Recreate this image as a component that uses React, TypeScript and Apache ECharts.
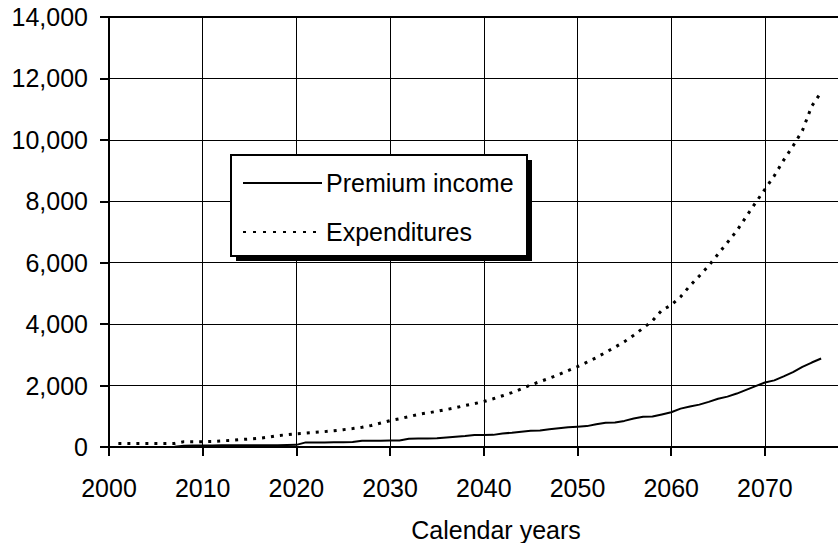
import React, { useEffect, useRef } from "react";
import * as echarts from "echarts";

const incomeYears = [
  2007, 2008, 2009, 2010, 2011, 2012, 2013, 2014, 2015, 2016, 2017, 2018, 2019, 2020,
  2021, 2022, 2023, 2024, 2025, 2026, 2027, 2028, 2029, 2030, 2031, 2032, 2033, 2034,
  2035, 2036, 2037, 2038, 2039, 2040, 2041, 2042, 2043, 2044, 2045, 2046, 2047, 2048,
  2049, 2050, 2051, 2052, 2053, 2054, 2055, 2056, 2057, 2058, 2059, 2060, 2061, 2062,
  2063, 2064, 2065, 2066, 2067, 2068, 2069, 2070, 2071, 2072, 2073, 2074, 2075, 2076,
];
const premiumIncome = [
  10, 40, 50, 50, 50, 55, 55, 55, 60, 60, 60, 60, 65, 70,
  150, 150, 150, 155, 155, 160, 205, 205, 205, 210, 215, 270, 275, 280,
  285, 310, 335, 360, 390, 390, 395, 440, 465, 500, 530, 535, 580, 610,
  640, 660, 680, 740, 790, 800, 850, 930, 985, 990, 1060, 1130, 1250, 1320,
  1380, 1470, 1570, 1640, 1740, 1860, 1980, 2100, 2170, 2300, 2440, 2610, 2750, 2880,
];

const expYears = [
  2001, 2002, 2003, 2004, 2005, 2006, 2007, 2008, 2009, 2010, 2011, 2012, 2013, 2014,
  2015, 2016, 2017, 2018, 2019, 2020, 2021, 2022, 2023, 2024, 2025, 2026, 2027, 2028,
  2029, 2030, 2031, 2032, 2033, 2034, 2035, 2036, 2037, 2038, 2039, 2040, 2041, 2042,
  2043, 2044, 2045, 2046, 2047, 2048, 2049, 2050, 2051, 2052, 2053, 2054, 2055, 2056,
  2057, 2058, 2059, 2060, 2061, 2062, 2063, 2064, 2065, 2066, 2067, 2068, 2069, 2070,
  2071, 2072, 2073, 2074, 2075, 2076,
];
const expenditures = [
  110, 110, 110, 110, 110, 110, 115, 175, 175, 175, 180, 200, 215, 240,
  260, 280, 320, 370, 400, 430, 450, 475, 500, 530, 565, 600, 640, 700,
  780, 860, 920, 990, 1060, 1110, 1160, 1220, 1280, 1350, 1410, 1480, 1570, 1670,
  1770, 1890, 2020, 2130, 2240, 2360, 2490, 2620, 2760, 2910, 3080, 3250, 3430, 3640,
  3870, 4110, 4450, 4620, 4890, 5250, 5570, 5900, 6280, 6660, 7040, 7500, 7950, 8390,
  8830, 9340, 9800, 10300, 11100, 11550,
];

const seriesNames = ["Premium income", "Expenditures"];
const xTitle = "Calendar years";

const FONT = "'Liberation Sans', Arial, sans-serif";

export default function App() {
  const ref = useRef<HTMLDivElement>(null);
  useEffect(() => {
    if (!ref.current) return;
    const chart = echarts.init(ref.current, undefined, { renderer: "svg" });
    const incomeData = incomeYears.map((y, i) => [y, premiumIncome[i]]);
    const expData = expYears.map((y, i) => [y, expenditures[i]]);
    chart.setOption({
      animation: false,
      backgroundColor: "#ffffff",
      textStyle: { fontFamily: FONT },
      grid: { left: 109, top: 17, right: 0, bottom: 96 },
      xAxis: [
        {
          type: "value",
          min: 2000,
          max: 2077.8,
          interval: 10,
          axisLine: { show: true, onZero: false, lineStyle: { color: "#000", width: 2 } },
          axisTick: { show: true, length: 9, lineStyle: { color: "#000", width: 2 } },
          axisLabel: {
            color: "#000",
            fontSize: 25,
            fontFamily: FONT,
            margin: 28,
            showMaxLabel: false,
            formatter: (v: number) => (Math.abs(v % 10) < 1e-6 ? String(v) : ""),
          },
          splitLine: { show: true, lineStyle: { color: "#000", width: 1 } },
        },
        {
          type: "value",
          position: "top",
          min: 2000,
          max: 2077.8,
          interval: 10,
          axisLine: { show: true, onZero: false, lineStyle: { color: "#000", width: 2 } },
          axisTick: { show: false },
          axisLabel: { show: false },
          splitLine: { show: false },
        },
      ],
      yAxis: {
        type: "value",
        min: 0,
        max: 14000,
        interval: 2000,
        axisLine: { show: true, lineStyle: { color: "#000", width: 2 } },
        axisTick: { show: true, length: 9, lineStyle: { color: "#000", width: 2 } },
        axisLabel: {
          color: "#000",
          fontSize: 25,
          fontFamily: FONT,
          margin: 21,
          formatter: (v: number) => v.toLocaleString("en-US"),
        },
        splitLine: { show: true, lineStyle: { color: "#000", width: 1 } },
      },
      series: [
        {
          name: seriesNames[0],
          type: "line",
          data: incomeData,
          showSymbol: false,
          symbol: "none",
          lineStyle: { color: "#000", width: 2 },
        },
        {
          name: seriesNames[1],
          type: "line",
          data: expData,
          showSymbol: false,
          symbol: "none",
          lineStyle: { color: "#000", width: 3, type: [3, 6] },
        },
      ],
      graphic: [
        { type: "rect", shape: { x: 236, y: 160, width: 296, height: 101 }, style: { fill: "#000" }, z: 100 },
        { type: "rect", shape: { x: 231, y: 155, width: 296, height: 101 }, style: { fill: "#fff", stroke: "#000", lineWidth: 2 }, z: 101 },
        { type: "line", shape: { x1: 243, y1: 183, x2: 322, y2: 183 }, style: { stroke: "#000", lineWidth: 2 }, z: 102 },
        { type: "line", shape: { x1: 243, y1: 232, x2: 322, y2: 232 }, style: { stroke: "#000", lineWidth: 2, lineDash: [3, 7] }, z: 102 },
        { type: "text", x: 326, y: 183, style: { text: seriesNames[0], fill: "#000", font: `25px ${FONT}`, verticalAlign: "middle" }, z: 102 },
        { type: "text", x: 326, y: 232, style: { text: seriesNames[1], fill: "#000", font: `25px ${FONT}`, verticalAlign: "middle" }, z: 102 },
        { type: "text", x: 496, y: 530, style: { text: xTitle, fill: "#000", font: `25px ${FONT}`, align: "center", verticalAlign: "middle" } },
      ],
    });
    return () => chart.dispose();
  }, []);
  return <div ref={ref} style={{ position: "fixed", left: 0, top: 0, width: 838, height: 543 }} />;
}
